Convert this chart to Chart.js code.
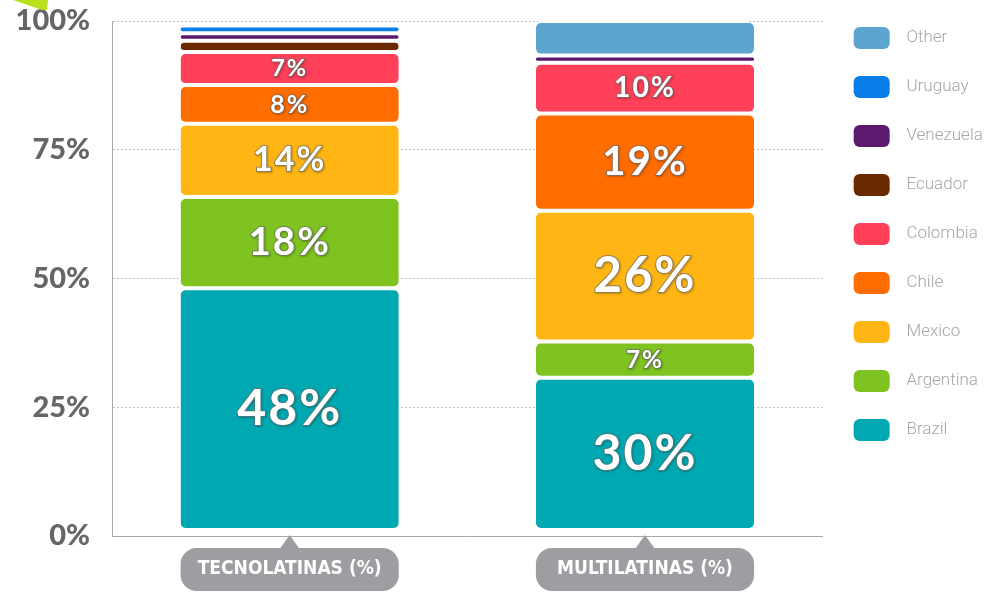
<!DOCTYPE html>
<html>
<head>
<meta charset="utf-8">
<script src="https://cdn.jsdelivr.net/npm/chart.js@4.4.1/dist/chart.umd.min.js"></script>
<style>
  html, body { margin: 0; padding: 0; background: #fff; }
  #wrap { width: 992px; height: 592px; }
</style>
</head>
<body>
<div id="wrap"><canvas id="shareChart"></canvas></div>
<script>
// Data (share of companies per country, %)
const categories = ['TECNOLATINAS (%)', 'MULTILATINAS (%)'];
const countries  = ['Brazil', 'Argentina', 'Mexico', 'Chile', 'Colombia', 'Ecuador', 'Venezuela', 'Uruguay', 'Other'];
const brazil     = [47.5, 29.9];
const argentina  = [17.9, 7.1];
const mexico     = [14.4, 25.7];
const chile      = [7.6, 19.1];
const colombia   = [6.5, 10.0];
const ecuador    = [2.2, 0];
const venezuela  = [1.5, 1.4];
const uruguay    = [1.5, 0];
const other      = [0, 6.8];
const yTicks     = [0, 25, 50, 75, 100];

const series = [brazil, argentina, mexico, chile, colombia, ecuador, venezuela, uruguay, other];

const colors = {
    Brazil: '#00a8b1',
    Argentina: '#7ec31f',
    Mexico: '#ffb614',
    Chile: '#ff6c00',
    Colombia: '#ff4058',
    Ecuador: '#6b2900',
    Venezuela: '#5c1a6e',
    Uruguay: '#077de8',
    Other: '#5ca5cf'
};

// white numbers inside the bigger segments
const segmentLabels = {
    id: 'segmentLabels',
    afterDatasetsDraw(chart) {
        const ctx = chart.ctx;
        chart.data.datasets.forEach((ds, di) => {
            if (ds.label === 'Other') return;
            const meta = chart.getDatasetMeta(di);
            meta.data.forEach((bar, i) => {
                const v = ds.data[i];
                if (v < 5) return;
                const { x, y, base } = bar.getProps(['x', 'y', 'base'], true);
                const h = Math.abs(base - y);
                const size = Math.max(23, Math.min(50, 15 + h * 0.26));
                const text = Math.round(v) + '%';
                const cy = (y + base) / 2;
                ctx.save();
                ctx.font = `bold ${size}px Lato`;
                ctx.letterSpacing = '2px';
                ctx.textAlign = 'center';
                ctx.textBaseline = 'middle';
                ctx.lineJoin = 'round';
                ctx.shadowColor = 'rgba(0,0,0,0.35)';
                ctx.shadowOffsetX = 1;
                ctx.shadowOffsetY = 1;
                ctx.shadowBlur = 2;
                ctx.strokeStyle = 'rgba(110,110,110,0.7)';
                ctx.lineWidth = 2;
                ctx.strokeText(text, x, cy);
                ctx.shadowColor = 'transparent';
                ctx.fillStyle = '#fff';
                ctx.fillText(text, x, cy);
                ctx.restore();
            });
        });
    }
};

// grey speech-bubble tags under each bar + little green corner
const categoryTags = {
    id: 'categoryTags',
    afterDraw(chart) {
        const { ctx, scales: { x } } = chart;
        const meta = chart.getDatasetMeta(0);
        const top = x.top + 12;
        categories.forEach((label, i) => {
            const bar = meta.data[i];
            const cx = bar.x, w = bar.width;
            ctx.save();
            ctx.fillStyle = '#9d9ea2';
            ctx.beginPath();
            ctx.roundRect(cx - w / 2, top, w, 43, 16);
            ctx.fill();
            ctx.beginPath();
            ctx.moveTo(cx - 10, top + 1);
            ctx.lineTo(cx, top - 13);
            ctx.lineTo(cx + 10, top + 1);
            ctx.closePath();
            ctx.fill();
            ctx.fillStyle = '#fff';
            ctx.font = 'bold 19px "DejaVu Sans Condensed"';
            ctx.textAlign = 'center';
            ctx.textBaseline = 'middle';
            ctx.fillText(label, cx, top + 21);
            ctx.restore();
        });

        ctx.save();
        ctx.fillStyle = '#b8e01c';
        ctx.beginPath();
        ctx.moveTo(13, 0);
        ctx.lineTo(48, 0);
        ctx.lineTo(47, 10);
        ctx.lineTo(42, 10);
        ctx.closePath();
        ctx.fill();
        ctx.restore();
    }
};

const ctx = document.getElementById('shareChart').getContext('2d');
new Chart(ctx, {
    type: 'bar',
    data: {
        labels: categories,
        datasets: countries.map((name, i) => ({
            label: name,
            data: series[i],
            backgroundColor: colors[name],
            borderColor: '#fff',
            borderWidth: { top: 2, bottom: 2, left: 0, right: 0 },
            borderSkipped: false,
            borderRadius: { topLeft: 7, topRight: 7, bottomLeft: 7, bottomRight: 7 },
            categoryPercentage: 1,
            barPercentage: 0.614,
            yAxisID: 'yBars'
        }))
    },
    options: {
        responsive: true,
        maintainAspectRatio: false,
        animation: false,
        layout: { padding: { left: 0, right: 0, top: 0, bottom: 56 } },
        plugins: {
            tooltip: { enabled: false },
            legend: {
                position: 'right',
                align: 'start',
                reverse: true,
                labels: {
                    boxWidth: 36,
                    boxHeight: 22,
                    useBorderRadius: true,
                    borderRadius: 6,
                    padding: 27,
                    color: '#a6a6a6',
                    font: { family: 'Roboto', size: 17, weight: '300' },
                    generateLabels: chart =>
                        Chart.defaults.plugins.legend.labels.generateLabels(chart)
                            .map(item => ({ ...item, text: '  ' + item.text, lineWidth: 0 }))
                }
            }
        },
        scales: {
            x: {
                stacked: true,
                grid: { display: false },
                border: { color: '#a8a8a8', width: 1 },
                ticks: { display: false },
                afterFit: axis => { axis.height = 0; }
            },
            y: {
                min: 0,
                max: 100,
                afterBuildTicks: axis => { axis.ticks = yTicks.map(v => ({ value: v })); },
                afterFit: axis => {
                    axis.width = 112;
                    axis.paddingTop = 21;
                    axis.paddingBottom = 0;
                },
                grid: { color: '#c4c4c4', drawTicks: false },
                border: { color: '#a8a8a8', width: 1, dash: [2, 2] },
                ticks: {
                    padding: 22,
                    color: '#666',
                    font: { family: 'Lato', size: 29, weight: '900' },
                    callback: v => v + '%'
                }
            },
            yBars: {
                position: 'right',
                stacked: true,
                min: -1.2,
                max: 100,
                grid: { display: false },
                border: { display: false },
                ticks: { display: false },
                afterFit: axis => { axis.width = 4; }
            }
        }
    },
    plugins: [segmentLabels, categoryTags]
});
</script>
</body>
</html>
